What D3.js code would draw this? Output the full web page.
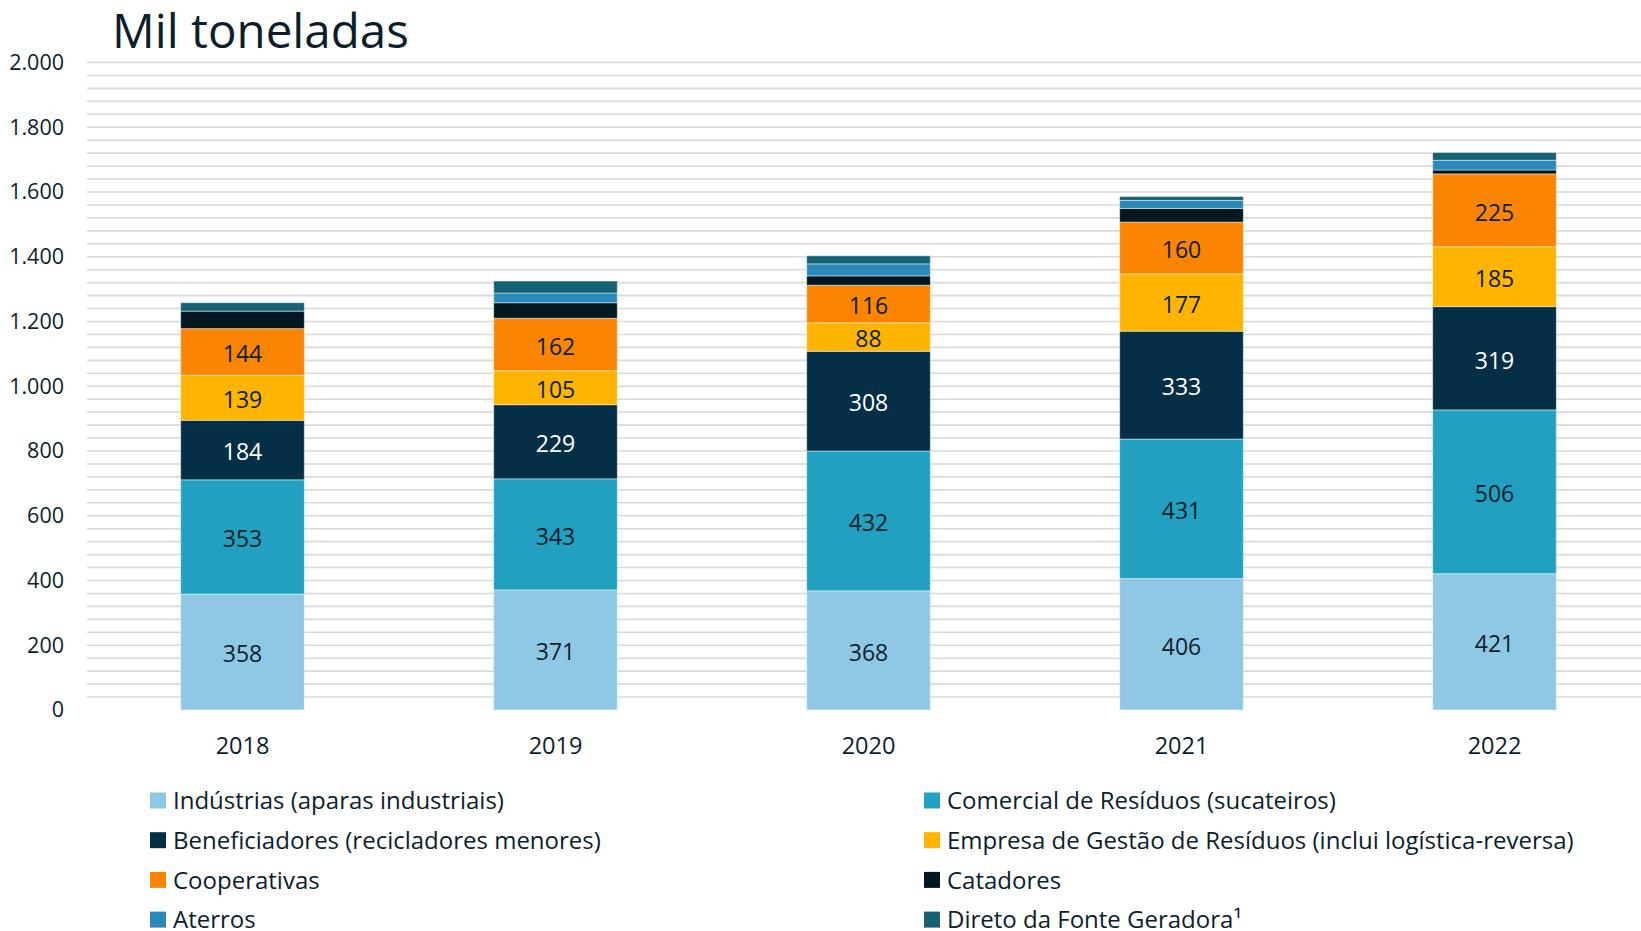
<!DOCTYPE html>
<html>
<head>
<meta charset="utf-8">
<title>Mil toneladas</title>
<script src="https://d3js.org/d3.v7.min.js"></script>
<style>
  body { margin: 0; background: #fff; }
  text { font-family: "Open Sans", sans-serif; fill: #0b1e2b; }
</style>
</head>
<body>
<script>
var years = ["2018", "2019", "2020", "2021", "2022"];
var seriesNames = [
  "Indústrias (aparas industriais)",
  "Comercial de Resíduos (sucateiros)",
  "Beneficiadores (recicladores menores)",
  "Empresa de Gestão de Resíduos (inclui logística-reversa)",
  "Cooperativas",
  "Catadores",
  "Aterros",
  "Direto da Fonte Geradora¹"
];
var industrias    = [358, 371, 368, 406, 421];
var comercial     = [353, 343, 432, 431, 506];
var beneficiadores = [184, 229, 308, 333, 319];
var empresa       = [139, 105, 88, 177, 185];
var cooperativas  = [144, 162, 116, 160, 225];
var catadores     = [54, 48, 29, 42, 12];
var aterros       = [0, 30, 37, 25, 30];
var direto        = [26, 37, 25, 12, 24];
var yTicks = [0, 200, 400, 600, 800, 1000, 1200, 1400, 1600, 1800, 2000];

var colors = ["#8fc8e5", "#21a0bf", "#052f47", "#ffb400", "#fb8500", "#011821", "#2a89b9", "#176175"];
var showLabel = [true, true, true, true, true, false, false, false];
var whiteLabel = [false, false, true, false, false, false, false, false];

var allSeries = [industrias, comercial, beneficiadores, empresa, cooperativas, catadores, aterros, direto];
var rows = years.map(function(y, i) {
  var r = { year: y };
  seriesNames.forEach(function(s, k) { r[s] = allSeries[k][i]; });
  return r;
});
var stacked = d3.stack().keys(seriesNames)(rows);

var W = 1641, H = 931;
var svg = d3.select("body").append("svg").attr("width", W).attr("height", H);

var x = d3.scaleBand().domain(years).range([86, 1651]).paddingInner(0.605).paddingOuter(0.3025);
var y = d3.scaleLinear().domain([0, 2000]).range([710, 62.5]);

// gridlines every 40
var grid = d3.range(40, 2001, 40);
svg.append("g").selectAll("line").data(grid).enter().append("line")
  .attr("x1", 87).attr("x2", W)
  .attr("y1", function(d) { return y(d); }).attr("y2", function(d) { return y(d); })
  .style("stroke", "#d9d9d9").style("stroke-width", 1.6);

// y axis labels
var yAxis = d3.axisLeft(y).tickValues(yTicks).tickSize(0).tickPadding(0)
  .tickFormat(function(d) { return d3.format(",")(d).replace(/,/g, "."); });
var ga = svg.append("g").attr("transform", "translate(64,0)").call(yAxis);
ga.select(".domain").remove();
ga.selectAll("text").style("font-size", "21.5px").style("font-family", "Open Sans, sans-serif").attr("fill", "#0b1e2b");

// x axis labels
var xAxis = d3.axisBottom(x).tickSize(0).tickPadding(0);
var gx = svg.append("g").attr("transform", "translate(0,737)").call(xAxis);
gx.select(".domain").remove();
gx.selectAll("text").style("font-size", "23.5px").style("font-family", "Open Sans, sans-serif").attr("fill", "#0b1e2b");

// bars
var layers = svg.append("g").selectAll("g").data(stacked).enter().append("g")
  .style("fill", function(d, i) { return colors[i]; });
layers.selectAll("rect").data(function(d) { return d; }).enter().append("rect")
  .attr("x", function(d) { return x(d.data.year); })
  .attr("width", x.bandwidth())
  .attr("y", function(d) { return y(d[1]); })
  .attr("height", function(d) { return y(d[0]) - y(d[1]); })
  .style("stroke", "rgba(255,255,255,0.45)").style("stroke-width", 1);

// value labels
stacked.forEach(function(layer, i) {
  if (!showLabel[i]) return;
  svg.append("g").selectAll("text").data(layer).enter().append("text")
    .attr("x", function(d) { return x(d.data.year) + x.bandwidth() / 2; })
    .attr("y", function(d) { return (y(d[0]) + y(d[1])) / 2 + 2; })
    .attr("dy", "0.36em")
    .attr("text-anchor", "middle")
    .style("font-size", "23px")
    .style("fill", whiteLabel[i] ? "#ffffff" : "#0b1e2b")
    .text(function(d) { return d[1] - d[0]; });
});

// title
svg.append("text").attr("x", 112).attr("y", 48)
  .style("font-size", "47.5px").text("Mil toneladas");

// legend
var legend = svg.append("g").selectAll("g").data(seriesNames).enter().append("g")
  .attr("transform", function(d, i) {
    var col = i % 2, row = Math.floor(i / 2);
    return "translate(" + (col === 0 ? 150 : 924) + "," + (800.5 + row * 39.7) + ")";
  });
legend.append("rect").attr("x", 0).attr("y", -8).attr("width", 16).attr("height", 16)
  .style("fill", function(d, i) { return colors[i]; });
legend.append("text").attr("x", 23).attr("dy", "0.36em")
  .style("font-size", "24px").text(function(d) { return d; });
</script>
</body>
</html>
